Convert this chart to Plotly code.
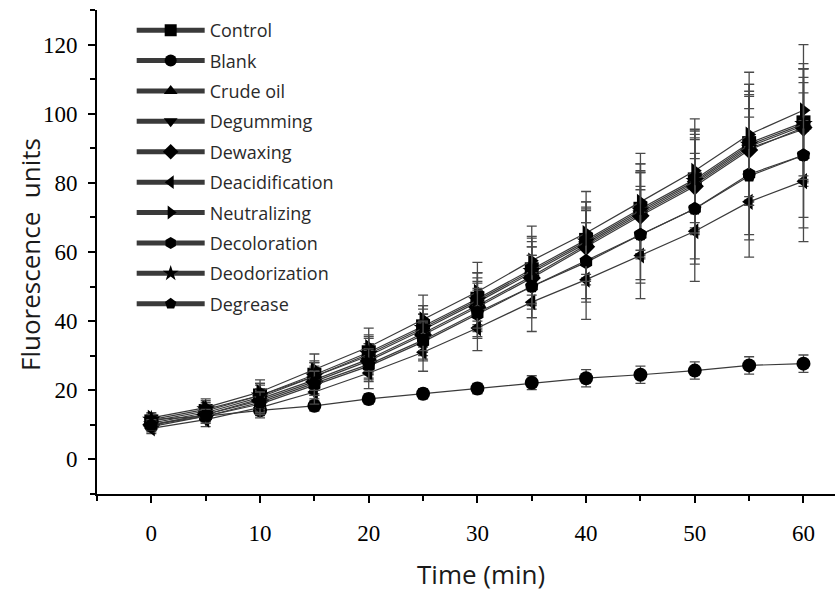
import plotly.graph_objects as go

time_min = [0, 5, 10, 15, 20, 25, 30, 35, 40, 45, 50, 55, 60]

series_names = ["Control", "Blank", "Crude oil", "Degumming", "Dewaxing",
                "Deacidification", "Neutralizing", "Decoloration", "Deodorization", "Degrease"]
series_symbols = ["square", "circle", "triangle-up", "triangle-down", "diamond",
                  "triangle-left", "triangle-right", "hexagon", "star", "pentagon"]

control = [11, 14, 18.5, 24.5, 31, 38.5, 46.5, 55, 63.5, 72.5, 81, 91.5, 97.5]
blank = [11.5, 12.5, 14.2, 15.5, 17.5, 19, 20.5, 22.2, 23.5, 24.5, 25.7, 27.2, 27.7]
crude_oil = [10.5, 13.5, 18, 24, 30, 37.5, 45.5, 54, 62.5, 71.5, 80, 90.5, 96.5]
degumming = [10, 13, 17.5, 23, 29, 36.5, 44.5, 53, 62, 71, 79.5, 90, 95.5]
dewaxing = [10, 13, 17, 22.5, 28.5, 36, 44, 52.5, 61.5, 70.5, 79, 89.5, 96]
deacidification = [9, 11.5, 15, 19.5, 25, 31, 38, 45.5, 52, 59, 66, 74.5, 80.5]
neutralizing = [12, 15, 19.5, 26, 32.5, 40.5, 48.5, 57.5, 65.5, 74.5, 83.5, 94, 101]
decoloration = [9.5, 12.5, 16, 21.5, 27, 34, 42, 50, 57, 65, 72.5, 82.5, 88]
deodorization = [11.5, 14.5, 18.5, 24, 30.5, 38, 46, 54.5, 63, 72, 80.5, 91, 97]
degrease = [10, 12.5, 16.5, 22, 27.5, 34.5, 42.5, 50, 57.5, 65, 72.5, 82, 88]

control_err = [1.5, 2.5, 3.5, 4, 5, 6, 7.5, 9.5, 11, 13, 14, 17, 17]
blank_err = [1.5, 1.5, 1.5, 1.5, 1.5, 1.5, 1.5, 2, 2.5, 2.5, 2.5, 2.5, 2.5]
crude_oil_err = [1.5, 2.5, 3.5, 4, 5, 6, 7, 9, 10.5, 12, 14, 16, 16.5]
degumming_err = [1.5, 2, 3, 4, 4.5, 5.5, 7, 8.5, 10, 12, 13, 15, 15]
dewaxing_err = [1.5, 2, 3, 4, 5, 6, 7, 9, 11, 12.5, 14, 16, 17]
deacidification_err = [1.5, 2, 3, 3.5, 4.5, 5.5, 6.5, 8.5, 11.5, 12.5, 14.5, 16, 17.5]
neutralizing_err = [1.5, 2.5, 3.5, 4.5, 5.5, 7, 8.5, 10, 12, 14, 15, 18, 19]
decoloration_err = [1.5, 2, 3, 4, 4.5, 5.5, 7, 9, 11.5, 14, 16, 19, 21]
deodorization_err = [1.5, 2.5, 3.5, 4, 5, 6.5, 8, 9.5, 11.5, 13.5, 15, 17.5, 16]
degrease_err = [1.5, 2, 3, 3.5, 4.5, 5.5, 7, 9, 11, 13, 14.5, 17, 18]

series_values = [control, blank, crude_oil, degumming, dewaxing,
                 deacidification, neutralizing, decoloration, deodorization, degrease]
series_errors = [control_err, blank_err, crude_oil_err, degumming_err, dewaxing_err,
                 deacidification_err, neutralizing_err, decoloration_err, deodorization_err, degrease_err]

x_ticks = [0, 10, 20, 30, 40, 50, 60]
y_ticks = [0, 20, 40, 60, 80, 100, 120]

fig = go.Figure()
for i, (name, sym, vals, errs) in enumerate(zip(series_names, series_symbols, series_values, series_errors)):
    fig.add_trace(go.Scatter(
        x=time_min, y=vals, name=name, mode="lines+markers",
        legendgroup=f"g{i}",
        line=dict(color="#3a3a3a", width=1.2),
        marker=dict(symbol=sym, size=14, color="black", line=dict(width=0)),
        error_y=dict(type="data", array=errs, visible=True, color="#4a4a4a", thickness=1.3, width=5),
    ))

fig.update_layout(
    width=835, height=595,
    margin=dict(l=97, r=0, t=10, b=101, autoexpand=False),
    paper_bgcolor="white", plot_bgcolor="white",
    showlegend=True,
    legend=dict(
        x=0.047, y=0.996, xanchor="left", yanchor="top",
        bgcolor="rgba(0,0,0,0)", borderwidth=0,
        font=dict(family="Open Sans", size=18, color="#2a2a2a"),
        tracegroupgap=4, itemsizing="constant", itemwidth=68,
    ),
    xaxis=dict(
        range=[-5, 62.9], tickvals=x_ticks, showgrid=False, zeroline=False,
        showline=True, linecolor="black", linewidth=2,
        ticks="outside", ticklen=7, tickwidth=2, tickcolor="black",
        minor=dict(dtick=5, tick0=0, ticks="outside", ticklen=5, tickwidth=2, tickcolor="black"),
        tickfont=dict(family="Liberation Serif", size=23, color="black"),
        ticklabelstandoff=10,
    ),
    yaxis=dict(
        range=[-10, 130], tickvals=y_ticks, showgrid=False, zeroline=False,
        showline=True, linecolor="black", linewidth=2,
        ticks="outside", ticklen=7, tickwidth=2, tickcolor="black",
        minor=dict(dtick=10, tick0=0, ticks="outside", ticklen=5, tickwidth=2, tickcolor="black"),
        tickfont=dict(family="Liberation Serif", size=23, color="black"),
        ticklabelstandoff=6,
    ),
    annotations=[
        dict(text="Time (min)", xref="paper", yref="paper",
             x=(481 - 97) / 738, y=-(574 - 494) / 484, xanchor="center", yanchor="middle",
             showarrow=False, font=dict(family="Open Sans", size=26, color="#1a1a1a")),
        dict(text="Fluorescence  units", xref="paper", yref="paper", textangle=-90,
             x=-(97 - 30) / 738, y=(494 - 255) / 484, xanchor="center", yanchor="middle",
             showarrow=False, font=dict(family="Open Sans", size=26, color="#1a1a1a")),
    ],
)

fig.write_html("out.html", config={"displayModeBar": False},
               post_script="document.body.style.margin='0px';document.body.style.overflow='hidden';")
